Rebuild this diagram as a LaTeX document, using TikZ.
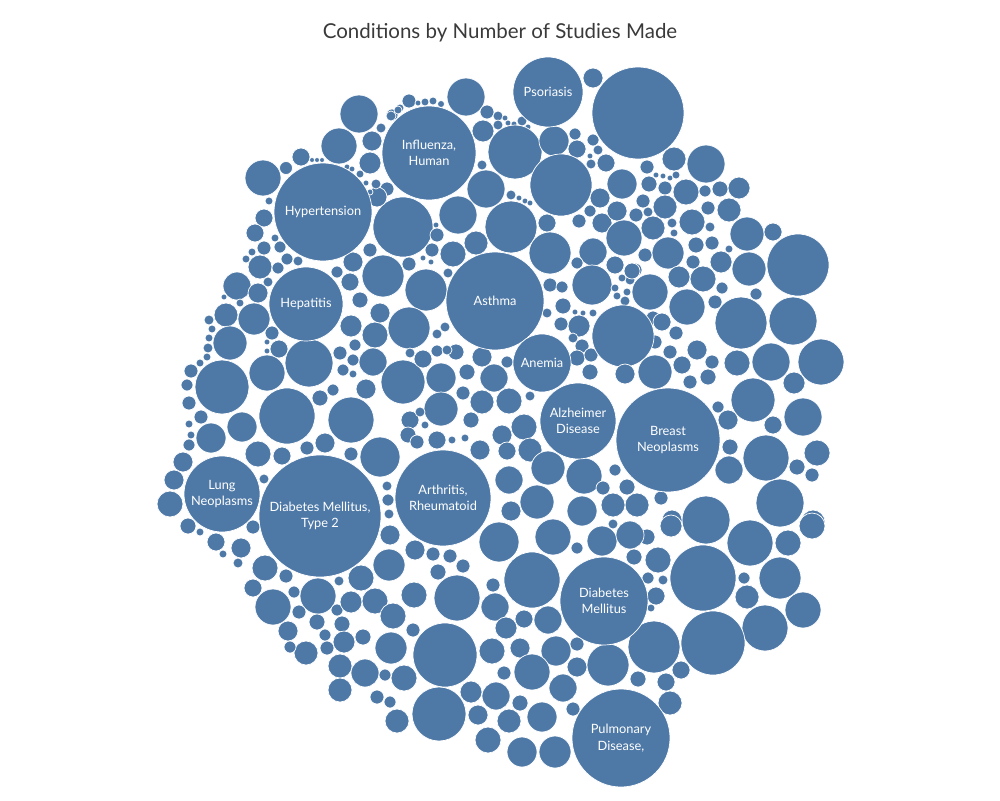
\documentclass[tikz,border=0pt]{standalone}
\usepackage{fontspec}
\setmainfont{Lato}
\definecolor{bub}{HTML}{4E79A7}
\definecolor{ttl}{HTML}{3A3A3A}
\begin{document}
\begin{tikzpicture}[x=1pt,y=-1pt,
  bubble/.style={circle,fill=bub,draw=white,line width=0.7pt,inner sep=0pt,outer sep=0pt},
  lbl/.style={text=white,font=\fontsize{12.8}{16.5}\selectfont,align=center},
  ttlstyle/.style={text=ttl,font=\fontsize{20.5}{24}\selectfont}]
\useasboundingbox (0,0) rectangle (1000,800);
\node[ttlstyle] (title) at (500,33) {Conditions by Number of Studies Made};
% unlabeled bubbles
\foreach \x/\y/\r [count=\i] in {
 638/113/46, 593/78/10, 466/97/19, 409/101/7, 392/115/6, 400/108/4, 425/102/4, 433/101/4, 441/104/3.5, 418/103/3,
 487/112/7, 483/131/11, 498/116/5, 498/125/5, 505/118/3, 508/123/3, 514/124/3, 522/121/5, 528/127/3,
 515/152/27, 554/141/15, 575/134/6, 577/149/9, 593/140/6, 598/150/5, 590/156/3, 606/163/9, 591/164/5,
 561/185/31, 482/165/5, 486/189/19, 511/195/5, 519/198/3, 525/201/3, 530/203/3, 511/227/26, 458/215/19,
 403/227/30, 387/189/7, 600/198/10, 622/184/15, 590/211/6, 579/221/7, 602/223/10, 617/211/10, 547/223/9,
 436/225/3, 437/235/7, 432/250/7, 453/254/13, 476/243/12, 550/253/21, 593/252/14, 383/276/21, 426/290/21,
 409/264/7, 423/258/3, 431/262/3, 448/273/5, 577/263/6, 592/285/20, 615/265/9, 635/270/7, 550/285/7, 562/287/6,
 563/306/8, 547/313/5, 579/326/11, 561/324/7, 575/312/3, 583/313/3, 593/313/4, 615/288/4, 617/296/4, 625/301/5, 627/292/4,
 630/280/5, 622/278/4, 573/338/5, 582/346/7, 577/358/8, 591/355/7, 590/372/8, 653/318/7, 655/342/7,
 359/114/19, 339/146/18, 263/178/18, 301/157/9, 286/168/6.5, 372/141/10, 370/163/11, 381/128/5, 391/116/5,
 264/218/9, 255/233/9, 269/201/4, 264/248/7, 260/267/12, 252/252/4, 246/259/4, 278/268/6, 280/247/6, 287/259/6, 298/261/5, 275/238/4,
 237/286/14, 258/293/10, 268/282/5, 353/262/10, 370/250/7, 337/272/6, 350/282/9, 377/197/10, 376/184/5, 360/174/4, 366/183/3, 370/192/3,
 347/167/3, 352/169/3, 312/160/2.5, 317/160/2.5, 322/160/2.5, 398/110/4,
 674/159/12, 706/164/19, 647/167/7, 649/184/8, 656/175/3, 663/176/3, 670/178/3, 676/175/4, 665/188/7, 686/192/13, 705/191/6, 720/189/8, 739/188/11,
 643/201/7, 665/207/12, 636/215/7, 648/212/5, 692/222/13, 708/208/7, 729/210/12, 624/238/18, 653/228/12, 672/223/5, 674/233/4, 710/227/5,
 747/234/17, 773/232/9, 668/253/16, 696/245/8, 712/243/7, 645/255/7, 729/249/4, 693/262/7, 721/262/11, 749/269/17, 798/265/31,
 632/271/8, 679/277/11, 703/279/13, 722/288/6, 756/294/6, 650/292/18, 687/306/17, 715/302/7,
 226/315/12, 254/319/16, 240/303/4, 224/297/3, 209/320/5, 212/329/4, 230/343/17, 209/338/4, 208/348/5, 207/357/4, 272/333/7, 267/342/3, 267/351/3,
 279/349/9, 309/363/24, 267/373/18, 222/387/27, 200/363/4, 191/371/7, 187/385/6, 189/403/7, 287/416/28, 201/417/7, 189/424/4, 191/435/4, 189/445/6,
 242/427/15, 211/438/15, 258/454/13, 282/456/9, 307/448/7, 325/443/10, 351/420/23, 320/398/8, 183/462/10, 174/480/10, 170/504/13, 264/479/5, 351/454/7, 380/457/20,
 351/326/11, 375/335/13, 373/362/14, 360/300/8, 380/313/10, 366/389/10, 353/360/6, 340/353/7, 355/345/6, 343/370/6, 353/374/4, 333/390/6,
 409/328/21, 403/382/22, 441/378/15, 494/378/14, 467/372/8, 482/357/10, 456/352/8, 423/359/9, 507/362/6, 441/409/17, 482/402/12, 509/401/13, 463/393/7,
 445/327/5, 437/334/5, 437/351/6, 447/350/5, 410/353/5, 410/420/9, 408/435/8, 420/412/5, 425/425/4,
 471/420/8, 524/427/13, 502/435/10, 437/440/9, 417/442/7, 530/450/12, 507/451/9, 480/450/10, 509/480/14, 548/468/17, 584/476/18, 537/502/17,
 511/511/10, 582/511/15, 603/488/7, 388/500/6, 389/514/5, 387/486/5, 530/396/5, 465/438/4, 452/440/4,
 623/336/31, 687/307/18, 741/323/26, 793/321/24, 821/362/23, 771/362/19, 737/363/13, 753/400/22, 803/417/19, 794/383/11, 655/372/17, 625/374/10,
 682/365/9, 697/350/10, 670/352/7, 662/322/9, 676/333/7, 690/382/7, 708/377/8, 712/362/7, 718/407/6, 728/420/10, 773/425/9, 766/458/23,
 817/453/13, 730/447/8, 729/470/14, 780/503/24, 797/467/8, 812/475/7, 706/520/24, 813/522/12, 637/505/12, 613/505/12, 627/487/8, 615/470/6, 661/498/7, 672/520/10,
 188/526/8, 200/532/4, 216/542/9, 223/554/4, 241/548/10, 238/563/5, 253/527/7, 265/568/13, 253/588/9, 273/607/18, 286/576/7, 294/592/6, 318/596/18,
 299/612/7, 288/631/10, 317/622/8, 306/653/12, 290/647/6, 325/635/6, 327/648/7, 342/624/8, 337/610/6, 351/602/11, 375/601/13, 361/578/13, 339/581/5,
 344/642/11, 363/637/8, 340/666/12, 365/673/14, 391/648/16, 340/690/12, 377/697/7, 390/702/6, 397/721/12, 390/535/10, 389/565/16, 393/616/13, 385/675/6,
 499/542/20, 553/537/18, 602/541/15, 577/548/6, 532/580/28, 457/598/23, 495/607/14, 414/595/13, 415/550/10, 433/554/7, 450/556/7, 463/566/7, 493/585/7,
 438/572/8, 413/630/7, 445/655/32, 506/628/11, 524/619/9, 548/620/14, 492/651/13, 520/648/10, 556/651/15, 577/644/7, 577/667/10, 608/665/21, 532/672/18,
 563/688/14, 504/673/7, 471/692/11, 496/696/14, 520/703/8, 509/721/12, 478/715/10, 542/717/15, 573/709/7, 488/740/13, 522/752/15, 555/752/16, 439/714/27, 404/678/13,
 750/543/23, 812/526/13, 788/543/13, 703/578/33, 780/578/21, 747/597/12, 744/578/6, 803/610/18, 765/628/23, 713/643/32, 654/647/26, 671/526/11, 647/537/8,
 630/535/14, 658/560/13, 634/557/8, 648/578/6, 663/580/5, 656/596/9, 651/608/4, 681/670/9, 666/682/9, 638/679/8, 670/703/12, 613/524/5}
 { \node[bubble,minimum size=2*\r] (b\i) at (\x,\y) {}; }
% labeled bubbles
\node[bubble,minimum size=70] (psoriasis) at (548,92) {};
\node[bubble,minimum size=94] (influenza) at (429,153) {};
\node[bubble,minimum size=98] (hypertension) at (323,212) {};
\node[bubble,minimum size=98] (asthma) at (495,301) {};
\node[bubble,minimum size=74] (hepatitis) at (306,304) {};
\node[bubble,minimum size=58] (anemia) at (542,363) {};
\node[bubble,minimum size=76] (alzheimer) at (578,421) {};
\node[bubble,minimum size=104] (breast) at (668,440) {};
\node[bubble,minimum size=76] (lung) at (222,494) {};
\node[bubble,minimum size=122] (dm2) at (320,516) {};
\node[bubble,minimum size=96] (arthritis) at (443,498) {};
\node[bubble,minimum size=88] (dm) at (604,601) {};
\node[bubble,minimum size=98] (pulmonary) at (621,738) {};
\node[lbl] (tpsoriasis) at (psoriasis) {Psoriasis};
\node[lbl] (tinfluenza) at (influenza) {Influenza,\\Human};
\node[lbl] (thypertension) at (hypertension) {Hypertension};
\node[lbl] (tasthma) at (asthma) {Asthma};
\node[lbl] (thepatitis) at (hepatitis) {Hepatitis};
\node[lbl] (tanemia) at (anemia) {Anemia};
\node[lbl] (talzheimer) at (alzheimer) {Alzheimer\\Disease};
\node[lbl] (tbreast) at (breast) {Breast\\Neoplasms};
\node[lbl] (tlung) at (lung) {Lung\\Neoplasms};
\node[lbl] (tdm2) at (dm2) {Diabetes Mellitus,\\Type 2};
\node[lbl] (tarthritis) at (arthritis) {Arthritis,\\Rheumatoid};
\node[lbl] (tdm) at (dm) {Diabetes\\Mellitus};
\node[lbl] (tpulmonary) at (pulmonary) {Pulmonary\\Disease,};
\end{tikzpicture}
\end{document}
